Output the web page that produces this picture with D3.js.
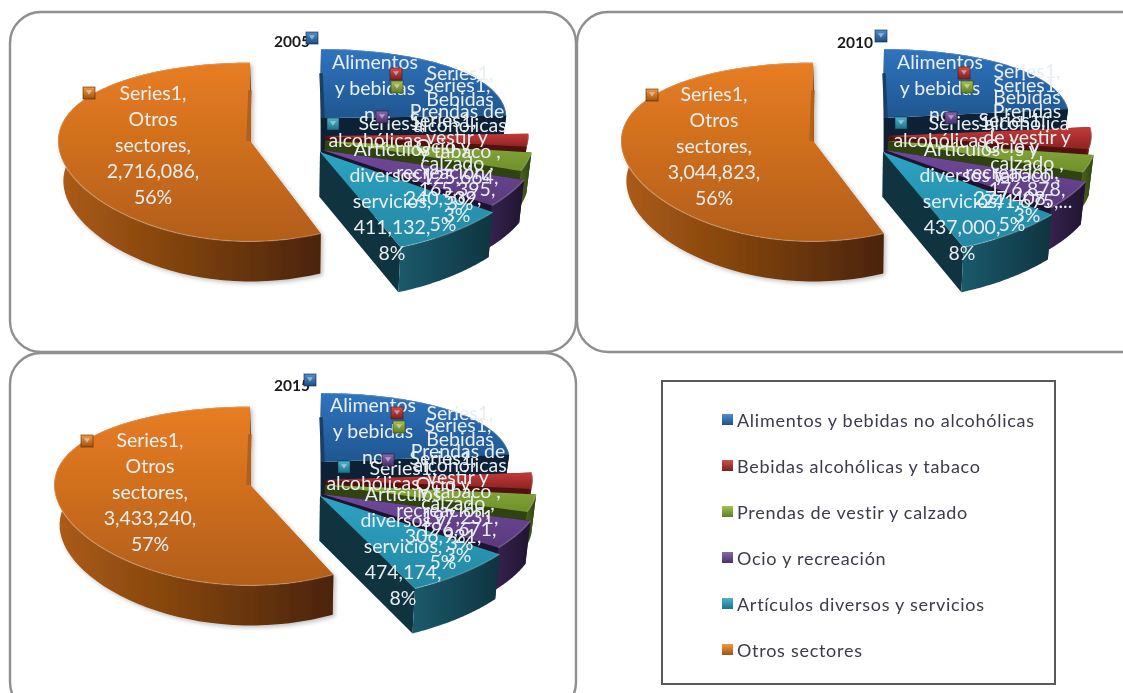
<!DOCTYPE html>
<html lang="es">
<head>
<meta charset="utf-8">
<title>Sectores 2005, 2010, 2015</title>
<script src="https://cdn.jsdelivr.net/npm/d3@7"></script>
<style>
html,body{margin:0;padding:0;background:#fff;overflow:hidden}
svg{display:block;filter:blur(.5px)}
</style>
</head>
<body>
<svg id="chart" width="1123" height="693"></svg>
<script>
// ---- data (Alimentos is hidden in the picture: estimated from the shares) ----
const categories = ["Alimentos y bebidas no alcohólicas","Bebidas alcohólicas y tabaco","Prendas de vestir y calzado","Ocio y recreación","Artículos diversos y servicios","Otros sectores"];
const years = ["2005","2010","2015"];
const values2005 = [1191000,125664,165395,240539,411132,2716086];
const values2010 = [1259400,241675,176878,277408,437000,3044823];
const values2015 = [1414991,197231,196671,306921,474174,3433240];
const wraps2005 = [["Alimentos","y bebidas","no","alcohólicas"],["Bebidas","alcohólicas","y tabaco ,"],["Prendas de","vestir y","calzado ,"],["Ocio y","recreación,"],["Artículos","diversos y","servicios,"],["Otros","sectores,"]];
const wraps2010 = [["Alimentos","y bebidas","no","alcohólicas"],["Bebidas","alcohólica","s y","tabaco ,"],["Prendas","de vestir y","calzado ,"],["Ocio y","recreación,"],["Artículos","diversos y","servicios,"],["Otros","sectores,"]];
const wraps2015 = wraps2005;

// ---- layout and style ----
const colTop = [["#2f74bf","#1f5690"],["#c23b39","#8e2222"],["#88aa3a","#6f8f2a"],["#70499a","#5a3a7d"],["#2ba3c2","#2488a4"],["#e87d22","#b25e19"]];
const colWall = [["#12304f","#0c2036"],["#7a1e1c","#4e1210"],["#527020","#2f420f"],["#38234f","#1f1430"],["#1a5a6b","#0f3440"],["#ad5c15","#4a2407"]];
const keyCol = [["#4f8fd0","#1f4f86"],["#d0504d","#7e1f1d"],["#a4c24f","#5f7c24"],["#8a66ad","#4a2f6b"],["#4db4cc","#1d7288"],["#f09a45","#a2520f"]];
// apex and scale of each slice inside a panel, then its wall depth
const sliceApex = [[321,118,.965,.88,34],[325,136,1.06,.9,34],[325,141,1.085,.95,41],[322,150,1.12,.95,43],[320,152,1.14,1.03,45],[250,141,1,1,40]];
const radiusX = 192, tiltY = 88, persp = .124, vanishX = 300, shrink = .022;
const panelScale = [1,1,1.02];
const panelBoxes = [[10,12,566,340],[577,12,580,340],[10,353,566,360]];
const panelOrigin = [[0,0],[563,0],[0,344]];
const titleAt = [[292,43],[855,44],[292,387]];
const labelAt2005 = [[375,64],[460,75],[457,87],[443,122],[392,125],[153,95]];
const labelAt2010 = [[940,64],[1027,73],[1027,87],[1012,122],[962,125],[714,96]];
const labelAt2015 = [[373,407],[460,415],[458,427],[443,460],[403,470],[150,442]];
const keyAt2005 = [[312,38],[396,74],[397,87],[382,117],[333,124],[89,93]];
const keyAt2010 = [[881,36],[964,73],[967,87],[951,118],[901,123],[652,95]];
const keyAt2015 = [[310,380],[397,413],[399,427],[388,460],[344,467],[87,441]];
const legendBox = [662,381,393,303];
const legendRowY = d3.scaleLinear().domain([0,5]).range([420,650]);

const svg = d3.select("#chart");
const defs = svg.append("defs");
function grad(id,c,horizontal){
  const g = defs.append("linearGradient").attr("id",id)
    .attr("x1",0).attr("y1",0).attr("x2",horizontal?1:0).attr("y2",horizontal?0:1);
  g.append("stop").attr("offset",0).attr("stop-color",c[0]);
  g.append("stop").attr("offset",1).attr("stop-color",c[1]);
}
categories.forEach((_,i)=>{
  grad("top"+i,colTop[i],false);
  grad("wall"+i,colWall[i],true);
  grad("key"+i,keyCol[i],false);
});
defs.append("filter").attr("id","soft").attr("x","-10%").attr("y","-10%").attr("width","125%").attr("height","125%")
  .append("feDropShadow").attr("dx",2).attr("dy",2).attr("stdDeviation",2).attr("flood-color","#000").attr("flood-opacity",.25);

const pie = d3.pie().sort(null).value(d=>d);
const line = d3.line();
const pctFmt = d3.format(".0%"), numFmt = d3.format(",");

function drawKey(g,x,y,i,size){
  const s = size/2;
  g.append("rect").attr("x",x-s).attr("y",y-s).attr("width",size).attr("height",size)
    .attr("fill","url(#key"+i+")").attr("stroke",colWall[i][1]).attr("stroke-opacity",.6).attr("stroke-width",1);
  g.append("path").attr("d",line([[x-s*.5,y-s*.45],[x+s*.5,y-s*.45],[x,y+s*.3]])).attr("fill","#fff").attr("fill-opacity",.45);
}

function drawPanel(p,vals,wraps,labelAt,keyAt){
  const [ox,oy] = panelOrigin[p];
  const g = svg.append("g");
  const b = panelBoxes[p];
  g.append("rect").attr("x",b[0]).attr("y",b[1]).attr("width",b[2]).attr("height",b[3]).attr("rx",31)
    .attr("fill",p===2?"none":"#fff").attr("stroke","#8f8f8f").attr("stroke-width",2.4);
  const arcs = pie(vals), total = d3.sum(vals);
  arcs.forEach((a,i)=>{
    const [ax,ay,kx,ky,depth] = sliceApex[i];
    const px = ox+ax, py = oy+ay, vx = ox+vanishX, sc = panelScale[p];
    const pt = t=>{
      const y = -Math.cos(t);
      return [px+sc*kx*radiusX*Math.sin(t), py+ky*tiltY*y/(1-persp*y)];
    };
    const down = q=>[q[0]+(vx-q[0])*shrink, q[1]+depth];
    const ts = d3.range(0,61).map(k=>a.startAngle+(a.endAngle-a.startAngle)*k/60);
    const rim = ts.map(pt);
    const s = svg.append("g").attr("filter",i===5?"url(#soft)":null);
    // radial faces, then the outer wall, then the top
    [rim[0],rim[60]].forEach(q=>{
      s.append("path").attr("d",line([[px,py],q,down(q),down([px,py])])+"Z").attr("fill",colWall[i][i===5?0:1]);
    });
    s.append("path").attr("d",line(rim.concat(rim.map(down).reverse()))+"Z").attr("fill","url(#wall"+i+")");
    s.append("path").attr("d",line([[px,py]].concat(rim))+"Z").attr("fill","url(#top"+i+")");
    // light bevel along the rim
    s.append("path").attr("d",line(rim)).attr("fill","none").attr("stroke","#fff").attr("stroke-opacity",.22).attr("stroke-width",1.4);
    // dark strip along the vertical cut of the first and last slices
    if(i===5||i===0){
      const q = pt(0);
      const from = [px+(q[0]-px)*.35, py+(q[1]-py)*.65];
      s.append("path").attr("d",line([from,[px-(i===5?2:-2),py]])).attr("stroke",i===5?"#b3601a":"#173f6c")
        .attr("stroke-width",3.5).attr("fill","none");
    }
  });
  // title
  svg.append("text").attr("x",titleAt[p][0]).attr("y",titleAt[p][1]).attr("text-anchor","middle").attr("dominant-baseline","middle")
    .attr("font-family","Lato, sans-serif").attr("font-weight",700).attr("font-size",15.5).attr("fill","#1a1a1a").text(years[p]);
  // data labels
  const lab = svg.append("g").attr("font-family","Lato, sans-serif").attr("font-size",19.5).attr("fill","#e9eef1")
    .attr("text-anchor","middle").attr("dominant-baseline","middle");
  vals.forEach((v,i)=>{
    const pct = pctFmt(v/total);
    let lines;
    if(i===0) lines = wraps[i];
    else if(p===1&&i===1) lines = ["Series1,",...wraps[i],numFmt(v)+",..."];
    else lines = ["Series1,",...wraps[i],numFmt(v)+",",pct];
    lines.forEach((t,k)=>lab.append("text").attr("x",labelAt[i][0]).attr("y",labelAt[i][1]+k*26).text(t));
  });
  vals.forEach((v,i)=>drawKey(svg.append("g"),keyAt[i][0],keyAt[i][1],i,12));
}
drawPanel(0,values2005,wraps2005,labelAt2005,keyAt2005);
drawPanel(1,values2010,wraps2010,labelAt2010,keyAt2010);
drawPanel(2,values2015,wraps2015,labelAt2015,keyAt2015);

// legend
const lg = svg.append("g");
lg.append("rect").attr("x",legendBox[0]).attr("y",legendBox[1]).attr("width",legendBox[2]).attr("height",legendBox[3])
  .attr("fill","#fff").attr("stroke","#595959").attr("stroke-width",2);
categories.forEach((c,i)=>{
  const y = legendRowY(i);
  lg.append("rect").attr("x",722).attr("y",y-6).attr("width",11).attr("height",11).attr("fill","url(#key"+i+")");
  lg.append("text").attr("x",737).attr("y",y+2).attr("dominant-baseline","middle").attr("letter-spacing",.72)
    .attr("font-family","Lato, sans-serif").attr("font-size",18).attr("fill","#3b3b4a").text(c);
});
</script>
</body>
</html>
